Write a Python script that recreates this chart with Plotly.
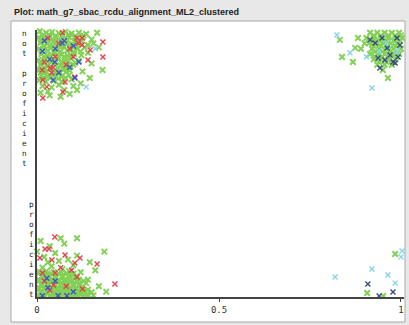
import plotly.graph_objects as go

# ---- data (x = predicted value, y = jittered class position: 1 = not proficient, 0 = proficient)
green_x = [
    # top-left cluster
    0.008,0.025,0.042,0.06,0.078,0.095,0.115,0.135,0.165,
    0.004,0.018,0.035,0.052,0.07,0.088,0.105,0.125,0.15,
    0.01,0.028,0.045,0.062,0.08,0.098,0.118,0.14,
    0.005,0.02,0.038,0.056,0.074,0.092,0.11,0.13,
    0.012,0.03,0.048,0.066,0.084,0.102,0.122,
    0.004,0.022,0.04,0.058,0.076,0.094,0.115,
    0.01,0.028,0.046,0.064,0.082,0.1,
    0.005,0.018,0.036,0.054,0.072,0.09,0.125,
    0.012,0.03,0.05,0.068,0.088,
    0.006,0.024,0.045,0.07,0.095,
    0.015,0.04,0.06,0.1,0.12,0.03,0.075,0.155,0.17,0.14,0.15,0.11,0.09,0.035,0.065,0.01,0.18,0.145,
    0.015,0.033,0.051,0.069,0.087,0.106,0.128,
    0.012,0.03,0.048,0.066,0.084,0.104,0.122,
    0.018,0.036,0.054,0.072,0.09,0.108,
    0.013,0.03,0.047,0.065,0.083,0.101,0.12,
    0.02,0.038,0.056,0.075,0.093,
    0.012,0.03,0.05,0.068,0.086,0.105,
    0.02,0.038,0.057,0.075,0.092,
    0.01,0.027,0.045,0.063,0.08,
    0.018,0.037,0.058,0.078,
    # top-right cluster
    0.915,0.935,0.955,0.975,0.995,
    0.905,0.925,0.945,0.965,0.985,1.003,
    0.912,0.932,0.952,0.972,0.992,
    0.92,0.94,0.96,0.98,1.0,
    0.915,0.935,0.955,0.975,0.995,
    0.925,0.945,0.965,0.985,
    0.935,0.955,0.975,
    0.832,0.838,0.874,0.868,0.882,0.964,0.9,0.89,0.95,
    0.925,0.945,0.965,0.985,1.0,
    0.92,0.94,0.96,0.98,0.998,
    0.925,0.945,0.965,0.985,
    0.93,0.95,0.97,0.99,
    0.928,0.948,0.968,0.988,
    0.94,0.96,0.98,
    # bottom-left cluster
    0.005,0.02,0.035,0.05,0.065,0.08,0.095,0.11,0.125,0.14,0.155,
    0.01,0.028,0.045,0.062,0.078,0.095,0.112,0.13,0.15,
    0.005,0.022,0.04,0.057,0.073,0.09,0.107,0.125,
    0.012,0.03,0.048,0.065,0.083,0.1,0.118,0.135,
    0.006,0.024,0.042,0.06,0.078,0.096,0.115,
    0.014,0.032,0.05,0.07,0.09,0.11,
    0.006,0.026,0.046,0.066,0.088,0.12,
    0.015,0.04,0.07,0.1,0.03,0.06,0.085,0.02,0.05,0.11,0.0,0.075,0.11,0.16,0.185,0.145,0.035,0.01,0.14,0.17,0.19,0.065,
    0.012,0.03,0.047,0.063,0.078,0.093,0.108,0.123,0.138,
    0.004,0.02,0.037,0.053,0.07,0.087,0.103,0.12,0.14,
    0.014,0.031,0.049,0.066,0.083,0.1,0.116,
    0.004,0.021,0.039,0.056,0.074,0.092,0.11,0.128,
    0.016,0.034,0.052,0.07,0.088,0.106,
    0.004,0.022,0.04,0.06,0.08,0.1,
    # bottom-right
    0.984,0.907,0.951,
]
green_y = [
    0.995,0.99,0.992,0.988,0.993,0.987,0.99,0.985,0.99,
    0.972,0.968,0.975,0.97,0.966,0.973,0.968,0.972,0.965,
    0.952,0.948,0.955,0.945,0.95,0.947,0.953,0.944,
    0.93,0.926,0.933,0.928,0.935,0.925,0.93,0.935,
    0.91,0.905,0.912,0.908,0.903,0.91,0.906,
    0.888,0.892,0.885,0.89,0.886,0.893,0.884,
    0.87,0.865,0.872,0.868,0.862,0.87,
    0.85,0.846,0.853,0.845,0.85,0.848,0.845,
    0.83,0.826,0.832,0.825,0.83,
    0.812,0.806,0.81,0.805,0.815,
    0.79,0.785,0.795,0.79,0.8,0.77,0.775,0.95,0.935,0.915,0.875,0.775,0.76,0.755,0.75,0.765,0.85,0.82,
    0.98,0.982,0.978,0.98,0.983,0.977,0.98,
    0.96,0.962,0.958,0.96,0.963,0.957,0.96,
    0.94,0.942,0.938,0.94,0.943,0.937,
    0.92,0.922,0.918,0.92,0.923,0.917,0.92,
    0.90,0.902,0.898,0.90,0.903,
    0.88,0.882,0.878,0.88,0.883,0.877,
    0.86,0.862,0.858,0.86,0.863,
    0.84,0.842,0.838,0.84,0.843,
    0.82,0.822,0.818,0.82,
    0.99,0.99,0.99,0.99,0.99,
    0.97,0.97,0.97,0.97,0.97,0.97,
    0.95,0.95,0.95,0.95,0.95,
    0.93,0.93,0.93,0.93,0.93,
    0.91,0.91,0.91,0.91,0.91,
    0.89,0.89,0.89,0.89,
    0.87,0.87,0.87,
    0.963,0.899,0.933,0.88,0.97,0.82,0.95,0.93,0.85,
    0.98,0.98,0.98,0.98,0.98,
    0.96,0.96,0.96,0.96,0.96,
    0.94,0.94,0.94,0.94,
    0.92,0.92,0.92,0.92,
    0.90,0.90,0.90,0.90,
    0.88,0.88,0.88,
    0.005,0.006,0.004,0.005,0.006,0.004,0.005,0.006,0.004,0.005,0.006,
    0.02,0.022,0.018,0.02,0.022,0.018,0.02,0.022,0.018,
    0.035,0.037,0.033,0.035,0.037,0.033,0.035,0.037,
    0.05,0.052,0.048,0.05,0.052,0.048,0.05,0.052,
    0.065,0.067,0.063,0.065,0.067,0.063,0.065,
    0.08,0.082,0.078,0.08,0.082,0.078,
    0.095,0.097,0.093,0.095,0.097,0.093,
    0.11,0.115,0.105,0.12,0.13,0.135,0.14,0.15,0.165,0.155,0.17,0.2,0.22,0.1,0.17,0.13,0.19,0.21,0.065,0.04,0.02,0.22,
    0.012,0.013,0.011,0.012,0.013,0.011,0.012,0.013,0.011,
    0.028,0.029,0.027,0.028,0.029,0.027,0.028,0.029,0.027,
    0.043,0.044,0.042,0.043,0.044,0.042,0.043,
    0.058,0.059,0.057,0.058,0.059,0.057,0.058,0.059,
    0.073,0.074,0.072,0.073,0.074,0.072,
    0.088,0.089,0.087,0.088,0.089,0.087,
    0.161,0.015,0.004,
]

red_x = [
    0.181,0.181,0.146,0.14,0.124,0.104,0.077,0.071,0.027,0.016,0.014,
    0.03,0.06,0.09,0.05,0.02,0.08,0.11,0.04,0.07,0.1,0.045,0.124,0.113,0.036,0.016,
    0.049,0.022,0.033,0.077,0.118,0.104,0.165,0.214,0.041,0.008,
    0.02,0.05,0.08,0.11,0.035,0.065,0.095,0.015,0.125,0.045,
]
red_y = [
    0.955,0.899,0.925,0.888,0.944,0.824,0.805,0.768,0.787,0.745,0.85,
    0.97,0.95,0.93,0.9,0.88,0.87,0.97,0.84,0.99,0.9,0.86,0.97,0.951,0.858,0.813,
    0.225,0.18,0.18,0.157,0.146,0.127,0.124,0.049,0.139,0.146,
    0.06,0.09,0.04,0.075,0.025,0.11,0.1,0.09,0.03,0.045,
]

blue_x = [
    0.02,0.05,0.075,0.035,0.09,0.06,0.1,0.015,0.115,0.069,0.049,0.044,0.104,
    0.027,0.03,0.058,0.082,0.05,0.1,0.015,
]
blue_y = [
    0.96,0.93,0.96,0.89,0.86,0.84,0.94,0.92,0.88,0.951,0.88,0.813,0.82,
    0.07,0.035,0.005,0.005,0.06,0.02,0.005,
]

navy_x = [0.915,0.929,0.948,0.962,0.97,0.978,0.942,0.956,0.989,0.997,0.937,0.992,0.984,
          0.909,0.978,0.94]
navy_y = [0.963,0.951,0.97,0.933,0.906,0.88,0.858,0.888,0.97,0.944,0.895,0.899,0.876,
          0.049,0.019,0.004]

cyan_x = [0.135,0.16,0.96,0.94,0.99,0.905,0.86,0.824,0.92,
          1.003,1.0,0.819,0.92,0.964,0.984]
cyan_y = [0.787,0.93,0.95,0.92,0.92,0.9,0.915,0.981,0.783,
          0.172,0.15,0.075,0.105,0.082,0.052]

x_ticks = [0, 0.5, 1]
x_tick_labels = ["0", "0.5", "1"]
title_text = "Plot: math_g7_sbac_rcdu_alignment_ML2_clustered"
label_top = "not proficient"
label_bottom = "proficient"

W, H = 409, 325
L, R, T, B = 37, 5, 30, 28
PW, PH = W - L - R, H - T - B


def px_x(p):
    return (p - L) / PW


def px_y(p):
    return (H - B - p) / PH


fig = go.Figure()


def add(xs, ys, color, size=5, width=1.4):
    fig.add_trace(go.Scatter(
        x=xs, y=ys, mode="markers", cliponaxis=False, hoverinfo="skip",
        marker=dict(symbol="x-thin-open", size=size, color=color,
                    line=dict(width=width, color=color)),
        showlegend=False))


add(green_x, green_y, "#82d055", 5.5, 2.0)
add(red_x, red_y, "#e0434c", 5)
add(blue_x, blue_y, "#3f55c4", 5)
add(navy_x, navy_y, "#384a80", 5)
add(cyan_x, cyan_y, "#86d4e6", 5)

fig.update_layout(
    width=W, height=H,
    margin=dict(l=L, r=R, t=T, b=B, pad=0, autoexpand=False),
    paper_bgcolor="#e8e8e8",
    plot_bgcolor="white",
    xaxis=dict(range=[0, (PW - 1) / 363], tickvals=x_ticks, ticktext=x_tick_labels,
               showgrid=False, zeroline=False, showline=True, linecolor="#444",
               linewidth=1.5, ticks="outside", ticklen=3, tickcolor="#444",
               automargin=False,
               tickfont=dict(family="DejaVu Sans Mono", size=9, color="#333")),
    yaxis=dict(range=[0, 1], showticklabels=False, showgrid=False, zeroline=False,
               showline=True, linecolor="#444", linewidth=1.5, ticks="", automargin=False),
    shapes=[dict(type="rect", xref="paper", yref="paper",
                 x0=px_x(11), x1=px_x(405), y0=px_y(322), y1=px_y(21),
                 fillcolor="white", line=dict(color="#a8a8a8", width=1), layer="below")],
    annotations=[
        dict(text="<b>" + title_text + "</b>", xref="paper", yref="paper",
             x=px_x(12), y=px_y(12), xanchor="left", yanchor="middle", showarrow=False,
             font=dict(family="Liberation Sans", size=9, color="#222")),
        dict(text="<br>".join(list(label_top)), xref="paper", yref="paper",
             x=px_x(24), y=px_y(99), xanchor="center", yanchor="middle", showarrow=False,
             font=dict(family="DejaVu Sans Mono", size=7.7, color="#222")),
        dict(text="<br>".join(list(label_bottom)), xref="paper", yref="paper",
             x=px_x(31), y=px_y(249), xanchor="center", yanchor="middle", showarrow=False,
             font=dict(family="DejaVu Sans Mono", size=7.7, color="#222")),
    ],
)

fig.write_html("out.html", config={"displayModeBar": False},
               post_script="document.body.style.margin='0px';")
